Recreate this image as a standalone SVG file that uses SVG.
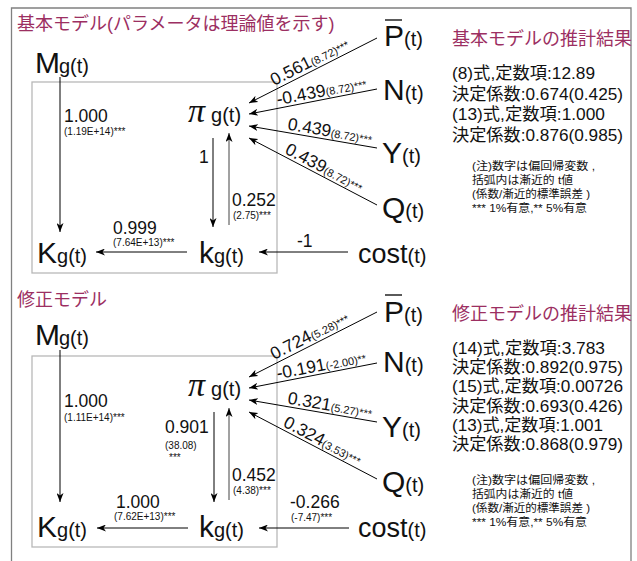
<svg xmlns="http://www.w3.org/2000/svg" width="637" height="561" viewBox="0 0 637 561">
<defs>
<marker id="ah" viewBox="0 0 9 7" refX="9" refY="3.5" markerWidth="9" markerHeight="7" orient="auto" markerUnits="userSpaceOnUse"><path d="M0,0 L9,3.5 L0,7 L2.5,3.5 z" fill="#000"/></marker>
</defs>
<style>
.frame{fill:none;stroke:#808080;stroke-width:1.3}
.box{fill:none;stroke:#b8b8b8;stroke-width:1.3}
.e{stroke:#000;stroke-width:1;fill:none;marker-end:url(#ah)}
text{font-family:"Liberation Sans","Noto Sans CJK JP",sans-serif;fill:#111}
.head{fill:#9c2f62;font-size:18px}
.big{font-size:30px}
.sub{font-size:20px}
.pi{font-family:"Liberation Serif",serif;font-style:italic;font-size:34px}
.num{font-size:17.5px}
.sm{font-size:10px}
.lnum{font-size:17.5px}
.lsm{font-size:11px}
.res{font-size:17px}
.note{font-size:11.5px}
.ov{stroke:#000;stroke-width:1.3}
</style>

<path class="frame" d="M11.5,561 V8 H631 V561"/>

<!-- ===== TOP SECTION ===== -->
<text class="head" x="17" y="30">基本モデル(パラメータは理論値を示す)</text>
<text class="head" x="452" y="45">基本モデルの推計結果</text>
<rect class="box" x="32" y="82" width="245" height="191"/>

<g id="top-M"><text x="35" y="73"><tspan class="big">M</tspan><tspan class="sub" dx="-1">g(t)</tspan></text></g>
<g id="top-pi"><text x="188" y="122"><tspan class="pi">π</tspan><tspan class="sub" dx="6">g(t)</tspan></text></g>
<g id="top-K"><text x="37" y="263"><tspan class="big">K</tspan><tspan class="sub">g(t)</tspan></text></g>
<g id="top-k"><text x="199" y="263"><tspan class="big">k</tspan><tspan class="sub">g(t)</tspan></text></g>
<g id="top-P"><line class="ov" x1="385" y1="20" x2="402" y2="20"/><text x="384" y="46"><tspan class="big">P</tspan><tspan class="sub">(t)</tspan></text></g>
<g id="top-N"><text x="383" y="100"><tspan class="big">N</tspan><tspan class="sub">(t)</tspan></text></g>
<g id="top-Y"><text x="382" y="163"><tspan class="big">Y</tspan><tspan class="sub">(t)</tspan></text></g>
<g id="top-Q"><text x="382" y="218"><tspan class="big">Q</tspan><tspan class="sub">(t)</tspan></text></g>
<g id="top-cost"><text x="358" y="263"><tspan style="font-size:27px">cost</tspan><tspan class="sub">(t)</tspan></text></g>

<g id="top-edges">
<line class="e" x1="377" y1="38" x2="249" y2="103"/>
<line class="e" x1="377" y1="89" x2="249" y2="114"/>
<line class="e" x1="377" y1="148" x2="249" y2="126"/>
<line class="e" x1="377" y1="205" x2="249" y2="138"/>
<line class="e" x1="60" y1="77" x2="60" y2="232"/>
<line class="e" x1="213" y1="138" x2="213" y2="227"/>
<line class="e" x1="229" y1="225" x2="229" y2="133" style="stroke:#444"/>
<line class="e" x1="187" y1="252" x2="96" y2="252"/>
<line class="e" x1="348" y1="252" x2="259" y2="252"/>
<text transform="translate(274,86) rotate(-26.9)"><tspan class="lnum">0.561</tspan><tspan class="lsm">(8.72)***</tspan></text>
<text transform="translate(277.8,105.3) rotate(-11.05)"><tspan class="lnum">-0.439</tspan><tspan class="lsm">(8.72)***</tspan></text>
<text transform="translate(287,129.5) rotate(9.75)"><tspan class="lnum">0.439</tspan><tspan class="lsm">(8.72)***</tspan></text>
<text transform="translate(284,153) rotate(27.63)"><tspan class="lnum">0.439</tspan><tspan class="lsm">(8.72)***</tspan></text>
<text class="num" x="64" y="122">1.000</text>
<text class="sm" x="64" y="135">(1.19E+14)***</text>
<text class="num" x="199" y="163">1</text>
<text class="num" x="232" y="206">0.252</text>
<text class="sm" x="233" y="219">(2.75)***</text>
<text class="num" x="113" y="234">0.999</text>
<text class="sm" x="113" y="246">(7.64E+13)***</text>
<text class="num" x="297" y="247">-1</text>
</g>

<g id="top-results">
<text class="res" x="452" y="79" textLength="143" lengthAdjust="spacingAndGlyphs">(8)式,定数項:12.89</text>
<text class="res" x="452" y="100" textLength="171" lengthAdjust="spacingAndGlyphs">決定係数:0.674(0.425)</text>
<text class="res" x="452" y="120" textLength="153" lengthAdjust="spacingAndGlyphs">(13)式,定数項:1.000</text>
<text class="res" x="452" y="141" textLength="171" lengthAdjust="spacingAndGlyphs">決定係数:0.876(0.985)</text>
<text class="note" x="472" y="170" textLength="123" lengthAdjust="spacingAndGlyphs">(注)数字は偏回帰変数 ,</text>
<text class="note" x="472" y="184" textLength="101" lengthAdjust="spacingAndGlyphs">括弧内は漸近的 t値</text>
<text class="note" x="472" y="198" textLength="118" lengthAdjust="spacingAndGlyphs">(係数/漸近的標準誤差 )</text>
<text class="note" x="472" y="212" textLength="115" lengthAdjust="spacingAndGlyphs">*** 1%有意,** 5%有意</text>
</g>

<!-- ===== BOTTOM SECTION ===== -->
<text class="head" x="17" y="306">修正モデル</text>
<text class="head" x="452" y="320">修正モデルの推計結果</text>
<rect class="box" x="32" y="356" width="245" height="191"/>

<g id="bot-M"><text x="35" y="345"><tspan class="big">M</tspan><tspan class="sub" dx="-1">g(t)</tspan></text></g>
<g id="bot-pi"><text x="188" y="396"><tspan class="pi">π</tspan><tspan class="sub" dx="6">g(t)</tspan></text></g>
<g id="bot-K"><text x="37" y="537"><tspan class="big">K</tspan><tspan class="sub">g(t)</tspan></text></g>
<g id="bot-k"><text x="199" y="537"><tspan class="big">k</tspan><tspan class="sub">g(t)</tspan></text></g>
<g id="bot-P"><line class="ov" x1="385" y1="295" x2="402" y2="295"/><text x="384" y="322"><tspan class="big">P</tspan><tspan class="sub">(t)</tspan></text></g>
<g id="bot-N"><text x="383" y="372"><tspan class="big">N</tspan><tspan class="sub">(t)</tspan></text></g>
<g id="bot-Y"><text x="382" y="437"><tspan class="big">Y</tspan><tspan class="sub">(t)</tspan></text></g>
<g id="bot-Q"><text x="382" y="492"><tspan class="big">Q</tspan><tspan class="sub">(t)</tspan></text></g>
<g id="bot-cost"><text x="358" y="537"><tspan style="font-size:27px">cost</tspan><tspan class="sub">(t)</tspan></text></g>

<g id="bot-edges">
<line class="e" x1="377" y1="312" x2="249" y2="377"/>
<line class="e" x1="377" y1="363" x2="249" y2="388"/>
<line class="e" x1="377" y1="422" x2="249" y2="400"/>
<line class="e" x1="377" y1="479" x2="249" y2="412"/>
<line class="e" x1="60" y1="350" x2="60" y2="502"/>
<line class="e" x1="214" y1="412" x2="214" y2="502"/>
<line class="e" x1="229" y1="500" x2="229" y2="408" style="stroke:#444"/>
<line class="e" x1="188" y1="528" x2="97" y2="528"/>
<line class="e" x1="349" y1="528" x2="259" y2="528"/>
<text transform="translate(274,360) rotate(-26.9)"><tspan class="lnum">0.724</tspan><tspan class="lsm">(5.28)***</tspan></text>
<text transform="translate(277.8,379.3) rotate(-11.05)"><tspan class="lnum">-0.191</tspan><tspan class="lsm">(-2.00)**</tspan></text>
<text transform="translate(287,403.5) rotate(9.75)"><tspan class="lnum">0.321</tspan><tspan class="lsm">(5.27)***</tspan></text>
<text transform="translate(282.3,426) rotate(27.63)"><tspan class="lnum">0.324</tspan><tspan class="lsm">(3.53)***</tspan></text>
<text class="num" x="64" y="407">1.000</text>
<text class="sm" x="64" y="421">(1.11E+14)***</text>
<text class="num" x="165" y="433">0.901</text>
<text class="sm" x="165" y="449">(38.08)</text>
<text class="sm" x="169" y="461">***</text>
<text class="num" x="232" y="481">0.452</text>
<text class="sm" x="233" y="494">(4.38)***</text>
<text class="num" x="116" y="508">1.000</text>
<text class="sm" x="114" y="520">(7.62E+13)***</text>
<text class="num" x="290" y="508">-0.266</text>
<text class="sm" x="291" y="521">(-7.47)***</text>
</g>

<g id="bot-results">
<text class="res" x="452" y="354" textLength="153" lengthAdjust="spacingAndGlyphs">(14)式,定数項:3.783</text>
<text class="res" x="452" y="373" textLength="171" lengthAdjust="spacingAndGlyphs">決定係数:0.892(0.975)</text>
<text class="res" x="452" y="392" textLength="171" lengthAdjust="spacingAndGlyphs">(15)式,定数項:0.00726</text>
<text class="res" x="452" y="412" textLength="171" lengthAdjust="spacingAndGlyphs">決定係数:0.693(0.426)</text>
<text class="res" x="452" y="431" textLength="151" lengthAdjust="spacingAndGlyphs">(13)式,定数項:1.001</text>
<text class="res" x="452" y="450" textLength="171" lengthAdjust="spacingAndGlyphs">決定係数:0.868(0.979)</text>
<text class="note" x="472" y="484" textLength="123" lengthAdjust="spacingAndGlyphs">(注)数字は偏回帰変数 ,</text>
<text class="note" x="472" y="498" textLength="101" lengthAdjust="spacingAndGlyphs">括弧内は漸近的 t値</text>
<text class="note" x="472" y="512" textLength="118" lengthAdjust="spacingAndGlyphs">(係数/漸近的標準誤差 )</text>
<text class="note" x="472" y="526" textLength="115" lengthAdjust="spacingAndGlyphs">*** 1%有意,** 5%有意</text>
</g>
</svg>
